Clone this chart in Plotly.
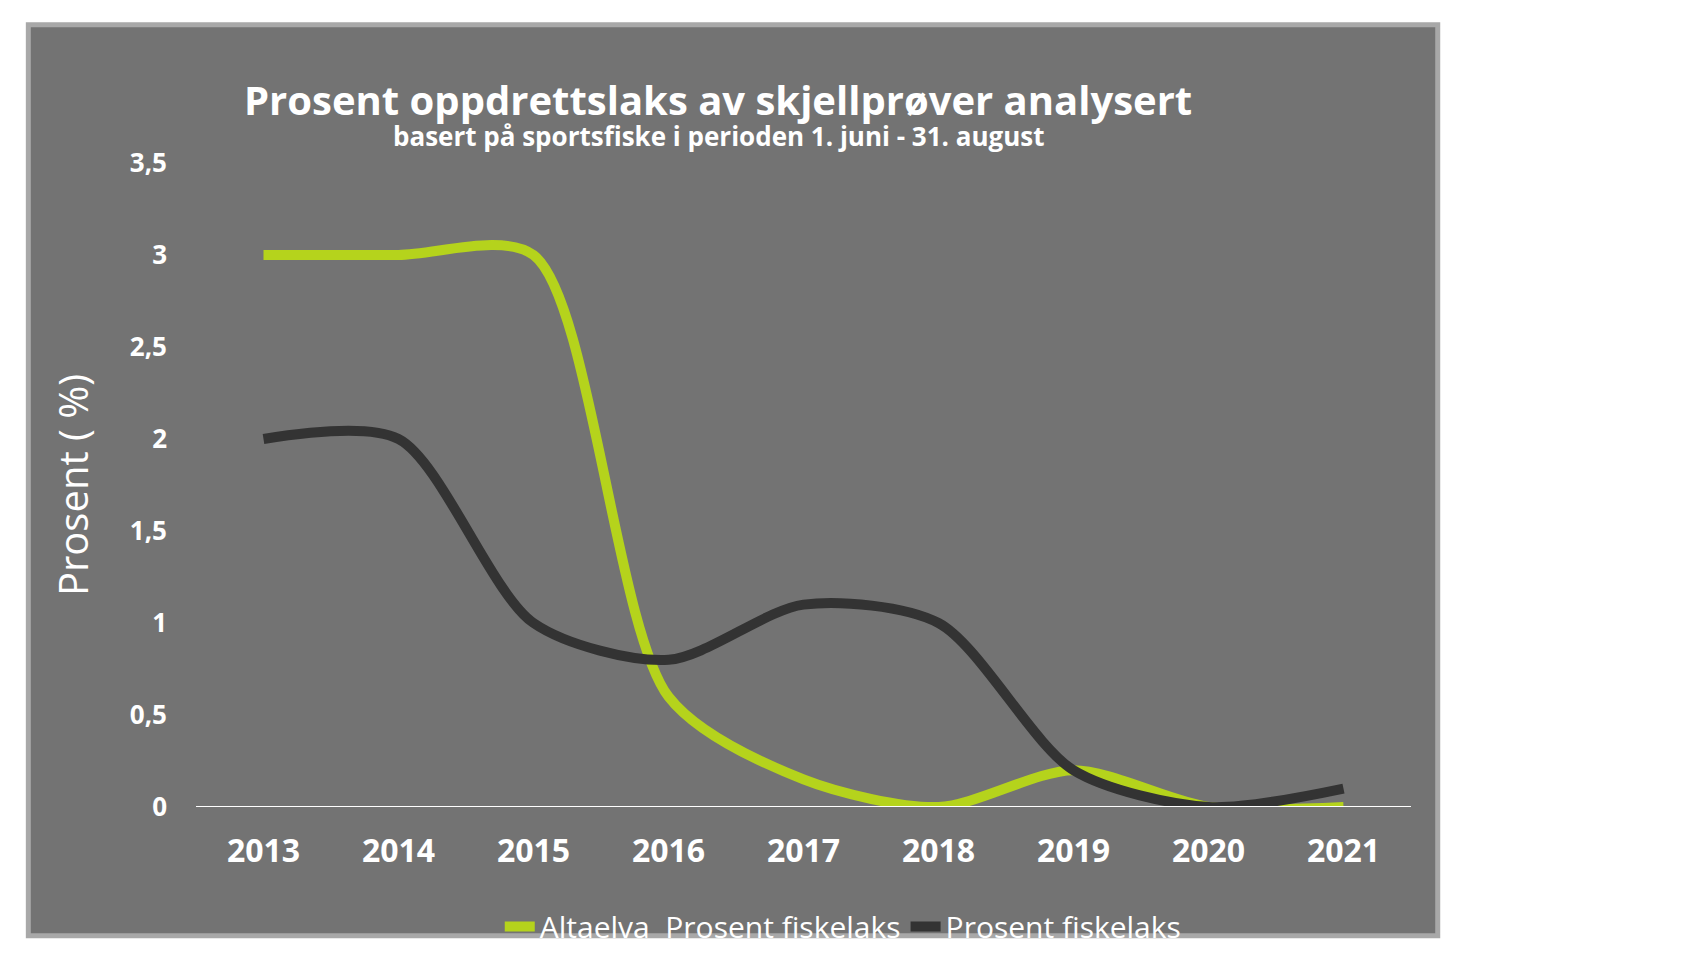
import plotly.graph_objects as go

years = ["2013","2014","2015","2016","2017","2018","2019","2020","2021"]
alta = [3.0, 3.0, 3.0, 0.6, 0.15, 0.0, 0.2, 0.0, 0.0]
other = [2.0, 2.0, 1.0, 0.8, 1.1, 1.0, 0.2, 0.0, 0.1]
yticks = [0, 0.5, 1, 1.5, 2, 2.5, 3, 3.5]
ylabels = ["0", "0,5", "1", "1,5", "2", "2,5", "3", "3,5"]

T, B, L, R = 155, 70, 188, 297
ph = 956 - T - B

fig = go.Figure()
fig.add_trace(go.Scatter(x=years, y=alta, mode="lines", line=dict(color="#b5d31c", width=10, shape="spline", smoothing=0.8),
                         name="Altaelva  Prosent fiskelaks"))
fig.add_trace(go.Scatter(x=years, y=other, mode="lines", line=dict(color="#333333", width=10, shape="spline", smoothing=0.8),
                         name="Prosent fiskelaks"))
fig.add_shape(type="rect", xref="paper", yref="paper", x0=-0.138, x1=1.022, y0=-0.2, y1=(956 - B + 2) / ph,
              fillcolor="#737373", line=dict(color="#a8a8a8", width=5), layer="below")
fig.add_annotation(text="<b>Prosent oppdrettslaks av skjellprøver analysert</b>", xref="paper", yref="paper",
                   x=0.43, y=(956 - B - 50) / ph, showarrow=False, font=dict(size=40, color="white"))
fig.add_annotation(text="<b>basert på sportsfiske i perioden 1. juni - 31. august</b>", xref="paper", yref="paper",
                   x=0.43, y=(956 - B - 102) / ph, showarrow=False, font=dict(size=26, color="white"))
fig.update_layout(
    width=1700, height=956, paper_bgcolor="white", plot_bgcolor="#737373",
    margin=dict(l=L, r=R, t=T, b=B),
    font=dict(family="Open Sans", color="white"),
    showlegend=True,
    legend=dict(orientation="h", x=0.25, y=-0.145, xanchor="left", yanchor="top", font=dict(size=30, color="white"), bgcolor="rgba(0,0,0,0)"),
    xaxis=dict(type="category", range=[-0.5, 8.5], showgrid=False, tickfont=dict(size=32, color="white", weight="bold"),
               ticks="", ticklabelstandoff=22),
    yaxis=dict(range=[0, 3.5], tickvals=yticks, ticktext=ylabels, showgrid=False, zeroline=False,
               tickfont=dict(size=26, color="white", weight="bold"), ticklabelstandoff=28,
               title=dict(text="Prosent ( %)", font=dict(size=40, color="white"), standoff=28)),
)
fig.add_hline(y=0, line=dict(color="white", width=2))
fig.write_html("out.html")
